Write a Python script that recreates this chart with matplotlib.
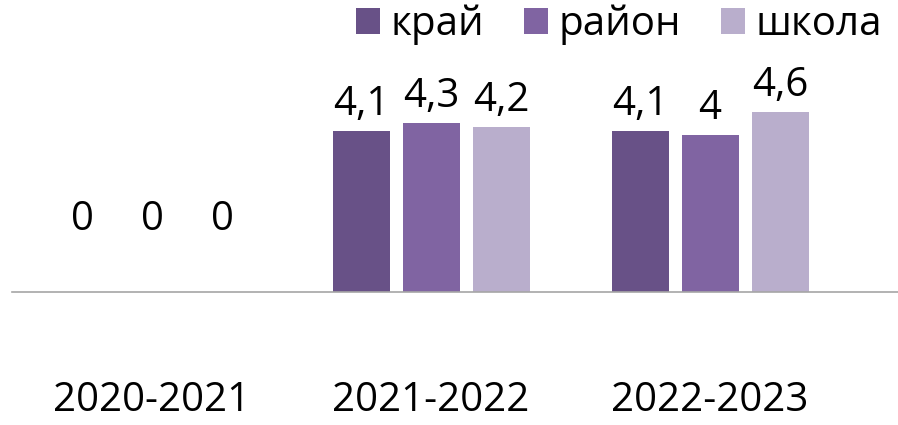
import numpy as np
import matplotlib.pyplot as plt

years = ["2020-2021", "2021-2022", "2022-2023"]
series = ["край", "район", "школа"]
kray = [0, 4.1, 4.1]
rayon = [0, 4.3, 4.0]
shkola = [0, 4.2, 4.6]
colors = ["#685187", "#8064A2", "#B9AECC"]

plt.rcParams['font.family'] = ['Open Sans', 'DejaVu Sans']

fig = plt.figure(figsize=(8.98, 4.25), dpi=100)
ax = fig.add_axes([12 / 898, 133 / 425, 886 / 898, 292 / 425])

x = np.arange(len(years))
w = 57 / 279
step = 70 / 279

for i, (name, vals) in enumerate(zip(series, [kray, rayon, shkola])):
    xs = x + (i - 1) * step
    ax.bar(xs, vals, width=w, color=colors[i], label=name)
    for xi, v in zip(xs, vals):
        label = ("%g" % v).replace(".", ",")
        off = 6 if v > 0 else 52
        ax.annotate(label, (xi, v), xytext=(0, off * 0.72), textcoords="offset points",
                    ha="center", va="bottom", fontsize=29)

ax.set_xlim(-140 / 279, 746 / 279)
ax.set_ylim(0, 7.45)
ax.set_xticks(x)
ax.set_xticklabels(years, fontsize=29)
ax.tick_params(axis="x", length=0, pad=64)
ax.set_yticks([])
for s in ["top", "right", "left"]:
    ax.spines[s].set_visible(False)
ax.spines["bottom"].set_color("#A6A6A6")
ax.spines["bottom"].set_linewidth(1.2)

ax.legend(loc="upper right", bbox_to_anchor=(1.0, 1.04), ncol=3, frameon=False,
          fontsize=29, handlelength=0.6, handleheight=0.6, handletextpad=0.25,
          columnspacing=1.0, borderaxespad=0.0)

fig.savefig("out.png", dpi=100)
